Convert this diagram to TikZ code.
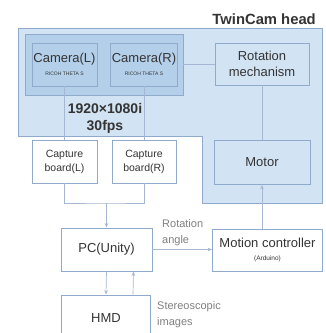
\documentclass[tikz,border=0pt]{standalone}
\usepackage{fontspec}
\setmainfont{Liberation Sans}
\usetikzlibrary{positioning}
\usetikzlibrary{arrows.meta}
\definecolor{headfill}{RGB}{210,227,243}
\definecolor{camfill}{RGB}{180,207,233}
\definecolor{boxline}{RGB}{143,170,202}
\definecolor{wirecol}{RGB}{165,183,210}
\definecolor{txt}{RGB}{52,52,52}

\begin{document}
\begin{tikzpicture}[x=1pt, y=-1pt,
	block/.style={draw=boxline, line width=0.8pt, rectangle, inner sep=0pt, align=center, text=txt, font=\fontsize{13}{16}\selectfont},
	note/.style={text=gray, align=left, anchor=west, inner sep=0pt, font=\fontsize{11}{16}\selectfont},
	wire/.style={draw=wirecol, line width=0.7pt},
	arr/.style={wire, -{Stealth[length=4.5pt, width=3.5pt]}},
	every edge/.style={wire}]
	\useasboundingbox (0,0) rectangle (326,333);
	% head region
	\draw[draw=boxline, line width=0.8pt, fill=headfill] (18,28) -- (322,28) -- (322,203) -- (202,203) -- (202,136) -- (18,136) -- cycle;
	\node (head) [anchor=south east, inner sep=0pt, text=txt, font=\bfseries\fontsize{14.8}{17}\selectfont] at (316,25) {TwinCam head};
	\node (cams) [block, fill=camfill, minimum width=158, minimum height=61] at (104,64.5) {}
	node (camL) [block, fill=camfill, minimum width=65, minimum height=43] at (64.5,64.5) {Camera(L)\\[-3pt]{\fontsize{5}{6}\selectfont RICOH THETA S}}
	node (camR) [block, fill=camfill, minimum width=67, minimum height=43] at (144,64.5) {Camera(R)\\[-3pt]{\fontsize{5}{6}\selectfont RICOH THETA S}}
	node (rot)  [block, fill=headfill, minimum width=94, minimum height=42] at (262,64) {Rotation\\mechanism}
	node (motor) [block, fill=headfill, minimum width=96, minimum height=44] at (262,162.5) {Motor}
	node (res)  [inner sep=0pt, align=center, text=txt, font=\bfseries\fontsize{14}{17}\selectfont] at (105,118.5) {1920×1080i\\30fps};
	% boards and PC side
	\node (capL) [block, fill=white, minimum width=65, minimum height=43, font=\fontsize{10.5}{14}\selectfont] at (64.5,161.5) {Capture\\board(L)}
	node (capR) [block, fill=white, minimum width=64, minimum height=43, font=\fontsize{10.5}{14}\selectfont] at (144,161.5) {Capture\\board(R)}
	node (pc)   [block, fill=white, minimum width=91, minimum height=43] at (106.5,249.5) {PC(Unity)}
	node (ctrl) [block, fill=white, minimum width=110, minimum height=42] at (267.5,250) {Motion controller\\[-3pt]{\fontsize{6.5}{8}\selectfont (Arduino)}}
	node (hmd)  [block, fill=white, minimum width=89, minimum height=46] at (106,318) {HMD};
	\node (angle) [note] at (162,232.5) {Rotation\\angle};
	\node (stereo) [note] at (157,315) {Stereoscopic\\images};
	\coordinate (merge) at (106.5,203);
	% connectors
	\path (camL) edge (capL)
	(camR) edge (capR)
	(cams.east) edge (cams.east -| rot.west)
	(rot) edge (motor);
	\draw[wire] (capL.south) |- (merge) -| (capR.south);
	\draw[arr] (merge) -- (pc.north);
	\draw[arr] (pc.east) -- (pc.east -| ctrl.west);
	\draw[arr] (motor.south |- ctrl.north) -- (motor.south);
	\draw[arr] (pc.south) -- (hmd.north);
	\draw[arr] ([xshift=27pt]hmd.north) -- ([xshift=27pt]pc.south);
\end{tikzpicture}
\end{document}
